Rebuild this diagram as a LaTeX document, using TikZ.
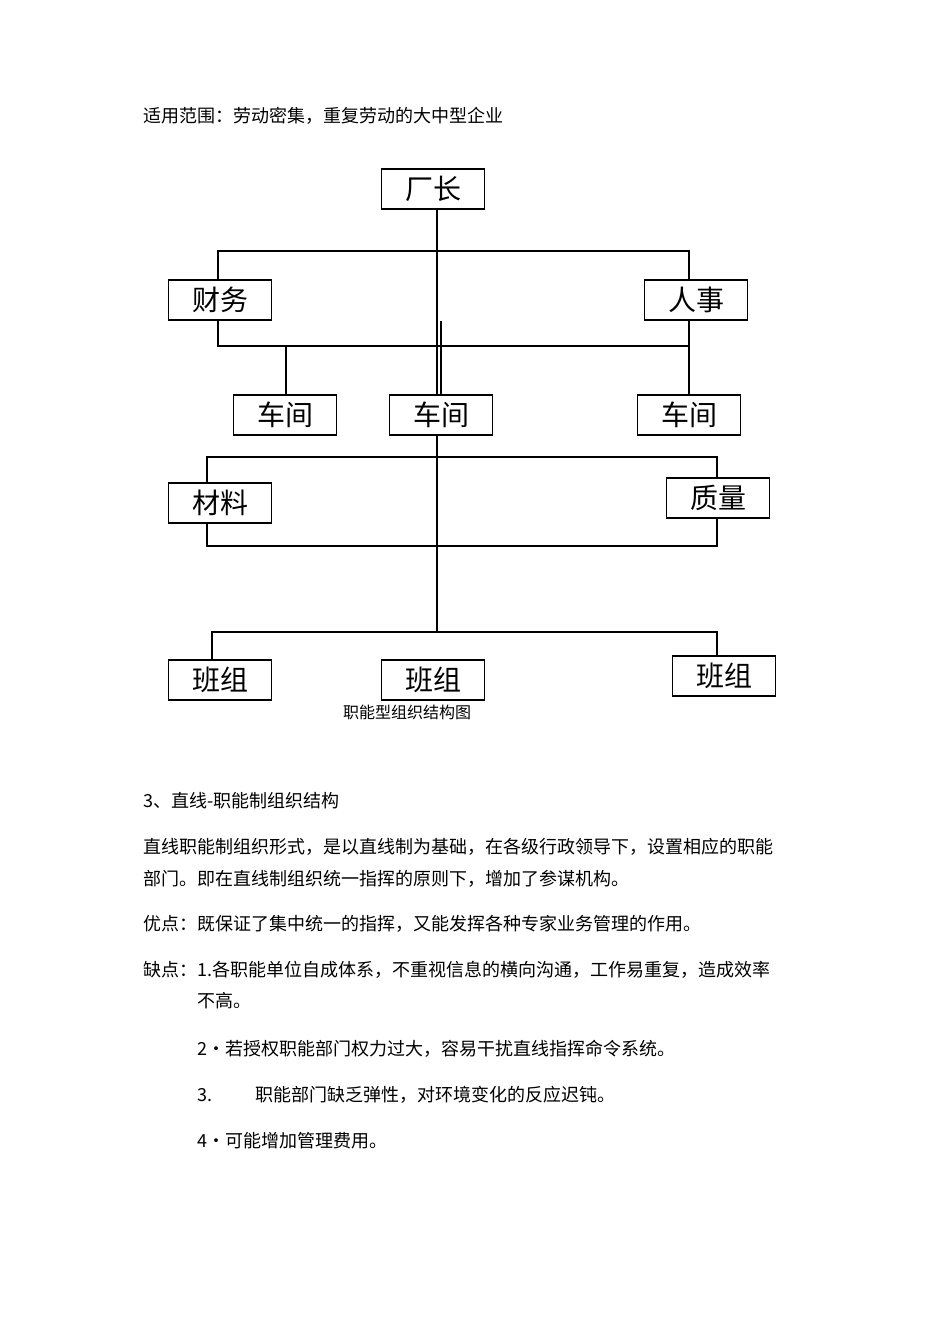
\documentclass[tikz,border=0pt]{standalone}
\usepackage{fontspec}
\setmainfont{Noto Sans CJK SC}
\begin{document}
\begin{tikzpicture}[x=0.75pt,y=-0.75pt,
  box/.style={draw,line width=1pt,minimum width=77pt,minimum height=30pt,inner sep=0pt,font=\fontsize{21}{21}\selectfont,fill=white},
  txt/.style={anchor=west,inner sep=0pt,font=\fontsize{13.5}{14}\selectfont},
  ln/.style={line width=1.2pt}]
\useasboundingbox[fill=white] (0,0) rectangle (950,1318);
% lines
\coordinate (t1) at (437,251); \coordinate (b1) at (437,632);
\draw[ln] (437,209) -- (b1);
\draw[ln] (218,280) |- (689,251) -- (689,281);
\draw[ln] (218,319) |- (689,346) -- (689,320);
\draw[ln] (286,346) -- (286,395);
\draw[ln] (689,346) -- (689,395);
\draw[ln] (207,484) |- (717,457) -- (717,478);
\draw[ln] (207,523) |- (717,546) -- (717,518);
\draw[ln] (212,660) |- (717,632) -- (717,656);
% boxes
\node[box] (cz) at (433,189) {厂长};
\node[box] (cw) at (220,300) {财务};
\node[box] (rs) at (696,300) {人事};
\node[box] (c1) at (285,415) {车间};
\node[box] (c2) at (441,415) {车间};
\node[box] (c3) at (689,415) {车间};
\node[box] (cl) at (220,503) {材料};
\node[box] (zl) at (718,498) {质量};
\node[box] (b1n) at (220,680) {班组};
\node[box] (b2n) at (433,680) {班组};
\node[box] (b3n) at (724,676) {班组};
\draw[ln] (c2.north) -- (c2.north|-cw.south);
\node[inner sep=0pt,font=\fontsize{12}{12}\selectfont] (cap) at (407,712) {职能型组织结构图};
% text
\node[txt] (l0) at (143,116) {适用范围：劳动密集，重复劳动的大中型企业};
\node[txt] (l1) at (143,801) {3、直线-职能制组织结构};
\node[txt] (l2) at (143,847) {直线职能制组织形式，是以直线制为基础，在各级行政领导下，设置相应的职能};
\node[txt] (l3) at (143,879) {部门。即在直线制组织统一指挥的原则下，增加了参谋机构。};
\node[txt] (l4) at (143,924) {优点：既保证了集中统一的指挥，又能发挥各种专家业务管理的作用。};
\node[txt] (l5) at (143,970) {缺点：1.各职能单位自成体系，不重视信息的横向沟通，工作易重复，造成效率};
\node[txt] (l6) at (197,1001) {不高。};
\node[txt] (l7) at (197,1049) {2•若授权职能部门权力过大，容易干扰直线指挥命令系统。};
\node[txt] (l8a) at (197,1095) {3.};
\node[txt] (l8) at (255,1095) {职能部门缺乏弹性，对环境变化的反应迟钝。};
\node[txt] (l9) at (197,1141) {4•可能增加管理费用。};
\end{tikzpicture}
\end{document}
